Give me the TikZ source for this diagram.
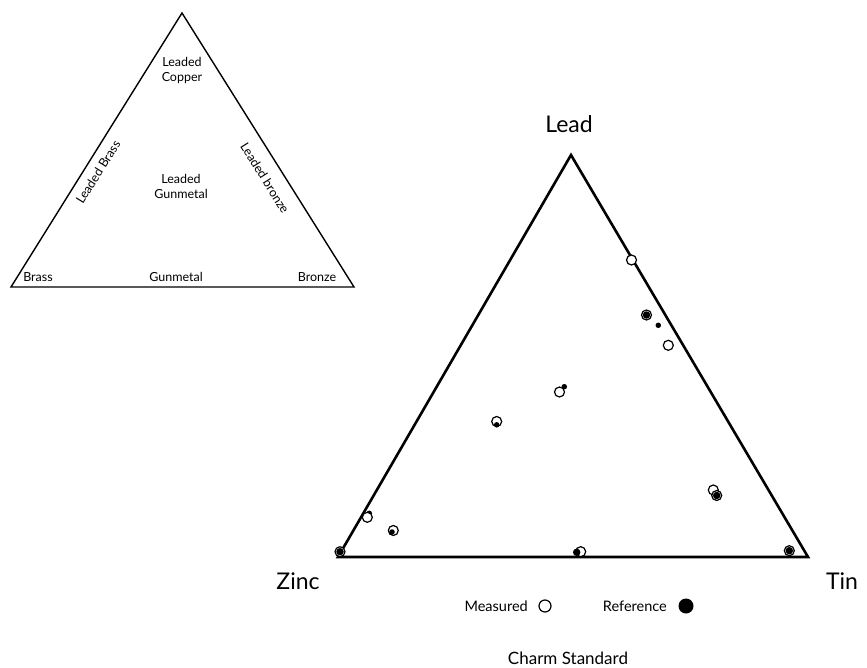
\documentclass[tikz,border=0pt]{standalone}
\usepackage{fontspec}
\setmainfont{Lato}
\begin{document}
\begin{tikzpicture}[x=1pt,y=-1pt,
  small/.style={font=\fontsize{12.5}{13}\selectfont, align=center, inner sep=0pt},
  big/.style={font=\fontsize{23}{25}\selectfont, inner sep=0pt},
  leg/.style={font=\fontsize{14.5}{16}\selectfont, inner sep=0pt},
  meas/.style={circle, draw=black, line width=1.2pt, fill=white, minimum size=10pt, inner sep=0pt},
  refp/.style={circle, fill=black, minimum size=7.5pt, inner sep=0pt},
  refs/.style={circle, fill=black, minimum size=5.5pt, inner sep=0pt}]
\useasboundingbox (0,0) rectangle (867,668);
% small triangle
\coordinate (sa) at (182,13);
\coordinate (sl) at (11,287);
\coordinate (sr) at (354,287);
\draw[line width=1.4pt, line join=miter] (sa) -- (sl) -- (sr) -- cycle;
\node[small] (lc) at (182,70) {Leaded\\[2pt]Copper};
\node[small] (lg) at (181,186) {Leaded\\[2pt]Gunmetal};
\node[small, rotate=58] (lb) at (98,172) {Leaded Brass};
\node[small, rotate=-58] (lz) at (265,178) {Leaded bronze};
\node[small] (br) at (38,277) {Brass};
\node[small] (gm) at (176,277) {Gunmetal};
\node[small] (bz) at (317,277) {Bronze};
% big triangle
\coordinate (ba) at (571,155);
\coordinate (bl) at (338,557);
\coordinate (bb) at (808,557);
\draw[line width=2.6pt, line join=miter] (ba) -- (bl) -- (bb) -- cycle;
\node[big] (lead) at (569,124) {Lead};
\node[big] (zinc) at (298,581) {Zinc};
\node[big] (tin) at (842,581) {Tin};
% data points
\node[meas] (m1) at (631.5,260) {};
\node[meas] (m2) at (646.5,315) {};
\node[refp] (r2) at (646.5,315) {};
\node[refs] (r3) at (658.3,325.3) {};
\node[meas] (m4) at (668.3,345.3) {};
\node[meas] (m5) at (559.5,392) {};
\node[refs] (r5) at (564.3,386.7) {};
\node[meas] (m6) at (496.7,421.5) {};
\node[refs] (r6) at (496.7,424.8) {};
\node[meas] (m7) at (713.3,490) {};
\node[meas] (m7b) at (716.7,495.5) {};
\node[refp] (r7) at (716.7,495.5) {};
\node[refs] (r8) at (369.3,513.3) {};
\node[meas] (m8) at (367.3,517.3) {};
\node[meas] (m9) at (393.3,530.5) {};
\node[refs] (r9) at (392,532) {};
\node[meas] (m10) at (340,551.7) {};
\node[refp] (r10) at (340,551.7) {};
\node[meas] (m11) at (580.7,551.7) {};
\node[refp] (r11) at (576.7,552.3) {};
\node[meas] (m12) at (789.3,550.7) {};
\node[refp] (r12) at (789.3,550.7) {};
% legend
\node[leg, anchor=east] (lm) at (528,606) {Measured};
\node[meas, minimum size=12pt] (lmc) at (545,606) {};
\node[leg, anchor=east] (lr) at (667,606) {Reference};
\node[circle, fill=black, minimum size=15pt, inner sep=0pt] (lrc) at (686,606) {};
\node[leg, font=\fontsize{17}{19}\selectfont] (cs) at (568,658) {Charm Standard};
\end{tikzpicture}
\end{document}
